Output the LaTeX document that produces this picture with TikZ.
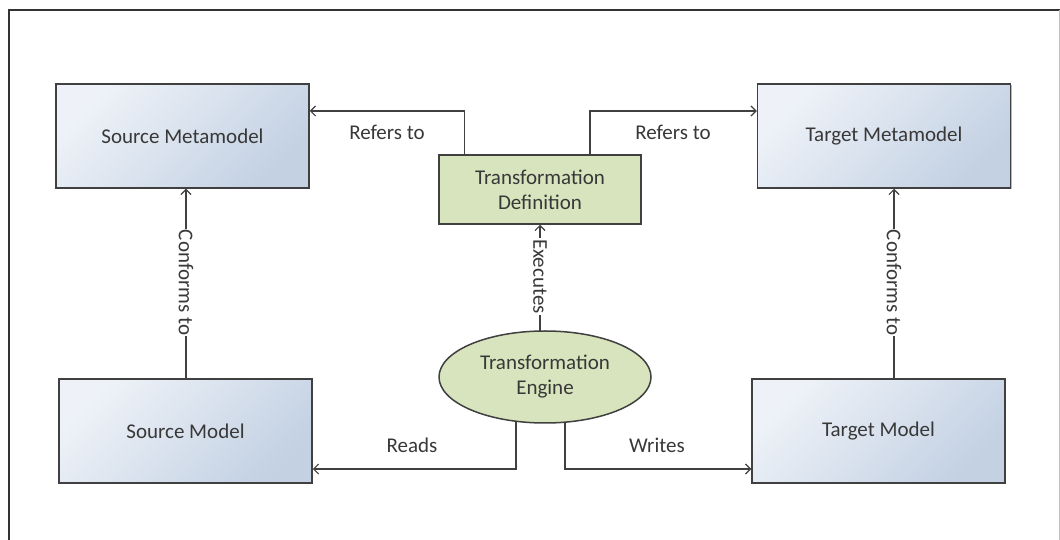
\documentclass[tikz,border=0pt]{standalone}
\usepackage{fontspec}
\setmainfont{Carlito}
\usetikzlibrary{arrows.meta,shapes.geometric,shadows,backgrounds}

\definecolor{boxlight}{HTML}{EEF2F8}
\definecolor{boxdark}{HTML}{C3D1E3}
\definecolor{greenfill}{HTML}{D7E4BD}
\definecolor{edge}{HTML}{404040}
\definecolor{ink}{HTML}{383838}

\tikzset{
  every node/.style={font=\fontsize{21}{25}\selectfont, text=ink},
  modelbox/.style={rectangle, draw=edge, line width=1.5pt,
    top color=boxlight, bottom color=boxdark, shading angle=45,
    minimum width=253pt, minimum height=104pt, inner sep=0pt,
    drop shadow={shadow xshift=1.2pt, shadow yshift=-1.2pt, fill=black!45, opacity=0.6}},
  defbox/.style={rectangle, draw=edge, line width=1.5pt, fill=greenfill,
    minimum width=202pt, minimum height=69pt, inner sep=0pt, align=center,
    drop shadow={shadow xshift=1.2pt, shadow yshift=-1.2pt, fill=black!45, opacity=0.6}},
  engine/.style={ellipse, draw=edge, line width=1.5pt, fill=greenfill,
    minimum width=212pt, minimum height=92pt, inner sep=0pt, align=center},
  link/.style={draw=edge, line width=1.2pt,
    -{Straight Barb[length=5pt, width=10pt, line width=1.2pt]}},
  linklabel/.style={inner sep=1pt},
  vlabel/.style={fill=white, inner sep=1pt, rotate=-90}
}

\begin{document}
\begin{tikzpicture}[x=1pt, y=1pt]
  \useasboundingbox (0,0) rectangle (1060,540);
  \clip (0,0) rectangle (1060,540);

  % page frame
  \draw[line width=1.8pt, black!80] (9,-5) -- (9,530) -- (1065,530);
  \draw[line width=1pt, black!25] (1059,530) -- (1059,-5);

  % models and metamodels
  \node[modelbox] (srcmeta) at (182.5,404) {Source Metamodel};
  \node[modelbox] (srcmodel) at (185.5,109) {Source Model};
  \node[modelbox] (tgtmeta) at (884,404) {Target Metamodel};
  \node[modelbox] (tgtmodel) at (878.5,109) {Target Model};

  % transformation
  \node[defbox] (tdef) at (540,350.5) {Transformation\\Definition};
  \node[engine] (teng) at (545,163) {Transformation\\Engine};

  % connectors
  \begin{pgfonlayer}{background}
    \draw[link] ([xshift=-75.5pt]tdef.north) |- ([yshift=25pt]srcmeta.east);
    \draw[link] ([xshift=50pt]tdef.north) |- ([yshift=25pt]tgtmeta.west);
    \draw[link] ([xshift=0.5pt]srcmodel.north) -- ([xshift=0.5pt]srcmodel.north |- srcmeta.south);
    \draw[link] ([xshift=15.5pt]tgtmodel.north) -- ([xshift=15.5pt]tgtmodel.north |- tgtmeta.south);
    \draw[link] (teng.center -| tdef.south) -- (tdef.south);
    \draw[link] ([xshift=-29pt]teng.center) |- ([yshift=-38pt]srcmodel.east);
    \draw[link] ([xshift=20pt]teng.center) |- ([yshift=-38pt]tgtmodel.west);
  \end{pgfonlayer}

  % connector labels
  \node[linklabel] (lref1) at (387,408) {Refers to};
  \node[linklabel] (lref2) at (673,408) {Refers to};
  \node[linklabel] (lreads) at (412,95) {Reads};
  \node[linklabel] (lwrites) at (657,95) {Writes};
  \node[vlabel] (lconf1) at (186,257.5) {Conforms to};
  \node[vlabel] (lconf2) at (894,257.5) {Conforms to};
  \node[vlabel] (lexec) at (540,263.5) {Executes};
\end{tikzpicture}
\end{document}
